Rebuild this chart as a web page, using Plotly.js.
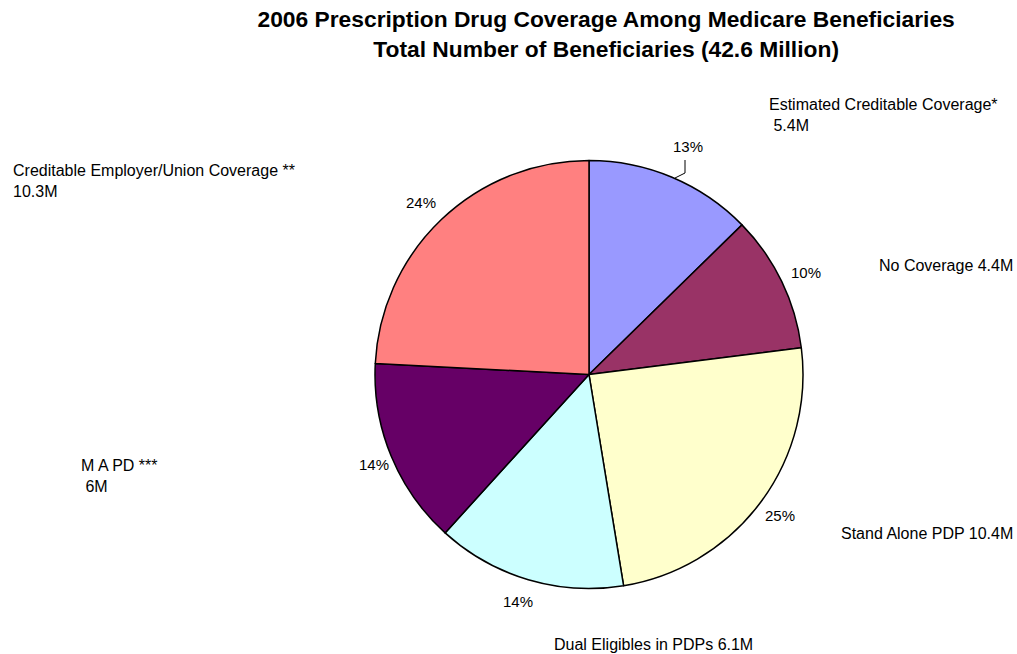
<!DOCTYPE html>
<html>
<head>
<meta charset="utf-8">
<script src="https://cdn.plot.ly/plotly-3.0.1.min.js"></script>
<style>html,body{margin:0;padding:0;background:#fff;}#chart{width:1017px;height:654px;}</style>
</head>
<body>
<div id="chart"></div>
<script>
// Data
var categories = [
  "Estimated Creditable Coverage*",
  "No Coverage",
  "Stand Alone PDP",
  "Dual Eligibles in PDPs",
  "M A PD ***",
  "Creditable Employer/Union Coverage **"
];
var valuesMillions = [5.4, 4.4, 10.4, 6.1, 6, 10.3];
var percentLabels = ["13%", "10%", "25%", "14%", "14%", "24%"];
var valueLabels = ["5.4M", "4.4M", "10.4M", "6.1M", "6M", "10.3M"];
var sliceColors = ["#9999FF", "#993366", "#FFFFCC", "#CCFFFF", "#660066", "#FF8080"];

// Label layout (pixel positions in the 1017x654 frame)
var W = 1017, H = 654;
function px(x){ return x / W; }
function py(y){ return 1 - y / H; }

var pctPos = [[688,146],[806,272],[780,515],[518,601],[374,465],[421,202]];
var catPos = [
  {x:767, y:115, text: categories[0] + "<br> " + valueLabels[0]},
  {x:877, y:265, text: categories[1] + " " + valueLabels[1]},
  {x:839, y:533, text: categories[2] + " " + valueLabels[2]},
  {x:552, y:644, text: categories[3] + " " + valueLabels[3]},
  {x:79,  y:476, text: categories[4] + "<br> " + valueLabels[4]},
  {x:11,  y:181, text: categories[5] + "<br>" + valueLabels[5]}
];

var FONT = "Liberation Sans, Arial, sans-serif";
var annotations = [];
for (var i = 0; i < categories.length; i++) {
  annotations.push({
    xref:"paper", yref:"paper", x: px(pctPos[i][0]), y: py(pctPos[i][1]),
    xanchor:"center", yanchor:"middle", showarrow:false,
    text: percentLabels[i], font:{family:FONT, size:15, color:"#000"}
  });
  annotations.push({
    xref:"paper", yref:"paper", x: px(catPos[i].x), y: py(catPos[i].y),
    xanchor:"left", yanchor:"middle", align:"left", showarrow:false,
    text: catPos[i].text, font:{family:FONT, size:16, color:"#000"}
  });
}

var cx = 589, cy = 374.5, r = 214;
var trace = {
  type: "pie",
  labels: categories,
  values: valuesMillions,
  sort: false,
  direction: "clockwise",
  rotation: 0,
  textinfo: "none",
  hoverinfo: "label+value",
  marker: { colors: sliceColors, line: { color: "#000", width: 1.5 } },
  domain: { x: [px(cx - r), px(cx + r)], y: [py(cy + r), py(cy - r)] },
  showlegend: false
};

var layout = {
  width: W, height: H,
  margin: { l: 0, r: 0, t: 0, b: 0 },
  paper_bgcolor: "#fff",
  showlegend: false,
  title: {
    text: "<b>2006 Prescription Drug Coverage Among Medicare Beneficiaries</b><br><b>Total Number of Beneficiaries (42.6 Million)</b>",
    x: 0.596, xanchor: "center",
    y: 1 - 27 / H, yanchor: "middle", yref: "container",
    font: { family: FONT, size: 22.8, color: "#000" }
  },
  annotations: annotations,
  shapes: [{
    type: "path", xref: "paper", yref: "paper",
    path: "M " + px(685) + "," + py(160) + " L " + px(685) + "," + py(173) + " L " + px(675) + "," + py(178),
    line: { color: "#000", width: 1 }
  }]
};

Plotly.newPlot("chart", [trace], layout, { staticPlot: true, displayModeBar: false });
</script>
</body>
</html>
